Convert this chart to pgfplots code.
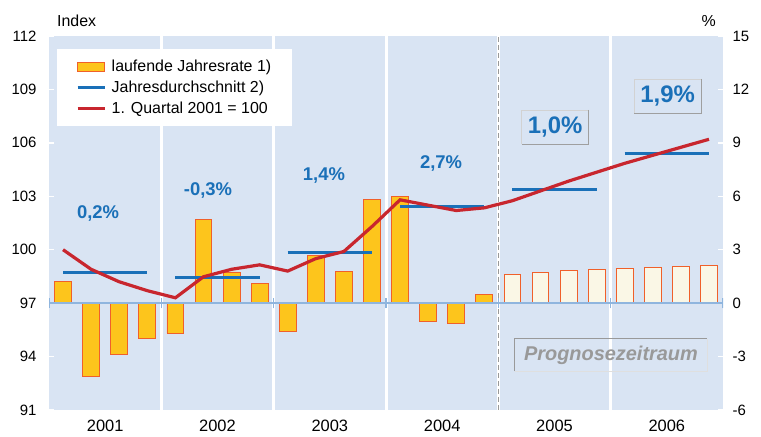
\documentclass[border=0pt]{standalone}
\usepackage{fontspec}
\setmainfont{Liberation Sans}
\usepackage{pgfplots}
\pgfplotsset{compat=1.18}

\definecolor{bgblue}{HTML}{D9E4F3}
\definecolor{barfill}{HTML}{FDC51C}
\definecolor{barline}{HTML}{F0602A}
\definecolor{progfill}{HTML}{FAF7E6}
\definecolor{avgblue}{HTML}{1A70B8}
\definecolor{idxred}{HTML}{C8262E}
\definecolor{zeroblue}{HTML}{8FB5DE}
\definecolor{labgray}{HTML}{999999}

\newcommand\fs[1]{\fontsize{#1}{#1}\selectfont}

\pgfplotsset{
  base/.style={
    at={(49bp,27bp)}, anchor=south west,
    width=674bp, height=374bp, scale only axis,
    xmin=0, xmax=24,
    axis line style={draw=none},
    tick align=inside, major tick length=5bp,
    tick style={white, line width=1.5bp},
    tick label style={font=\fs{15}},
    /pgf/number format/assume math mode=true,
  },
}

\begin{document}
\begin{tikzpicture}[x=1bp,y=1bp]
\path[use as bounding box] (0,0) rectangle (761,437);

% left axis (Index), background and year separators
\begin{axis}[base,
  ymin=91, ymax=112, ytick={91,94,...,112}, ytick pos=left,
  yticklabel style={xshift=-9bp},
  xtick={2,6,10,14,18,22}, xticklabels={2001,2002,2003,2004,2005,2006},
  x tick style={draw=none}, xticklabel style={yshift=-7bp, font=\fs{16.5}},
  axis background/.style={fill=bgblue},
]
\draw[white, line width=3bp] (axis cs:4,91) -- (axis cs:4,112);
\draw[white, line width=3bp] (axis cs:8,91) -- (axis cs:8,112);
\draw[white, line width=3bp] (axis cs:12,91) -- (axis cs:12,112);
\draw[white, line width=3bp] (axis cs:20,91) -- (axis cs:20,112);
\draw[white, line width=3bp] (axis cs:16,91) -- (axis cs:16,112);
\draw[labgray, line width=1.3bp, dash pattern=on 5bp off 3bp] (axis cs:16,91) -- (axis cs:16,112);
\end{axis}

% right axis (%), quarterly rates
\begin{axis}[base,
  ymin=-6, ymax=15, ytick={-6,-3,...,15}, ytick pos=right,
  yticklabel style={xshift=6bp},
  xtick=\empty,
]
\addplot[ybar, bar width=0.6, fill=barfill, draw=barline, line width=0.9bp] coordinates {
(0.5,1.2)(1.5,-4.1)(2.5,-2.9)(3.5,-2.0)
(4.5,-1.7)(5.5,4.7)(6.5,1.75)(7.5,1.1)
(8.5,-1.6)(9.5,2.7)(10.5,1.8)(11.5,5.8)
(12.5,6.0)(13.5,-1.05)(14.5,-1.15)(15.5,0.5)};
\addplot[ybar, bar width=0.6, fill=progfill, draw=barline, line width=0.9bp] coordinates {
(16.5,1.6)(17.5,1.7)(18.5,1.85)(19.5,1.9)
(20.5,1.95)(21.5,2.0)(22.5,2.05)(23.5,2.1)};
\draw[zeroblue, line width=2bp] (axis cs:0,0) -- (axis cs:24,0);
\draw[zeroblue, line width=1.5bp] (axis cs:0,-0.3) -- (axis cs:0,0.3);
\draw[zeroblue, line width=1.5bp] (axis cs:4,-0.3) -- (axis cs:4,0.3);
\draw[zeroblue, line width=1.5bp] (axis cs:8,-0.3) -- (axis cs:8,0.3);
\draw[zeroblue, line width=1.5bp] (axis cs:12,-0.3) -- (axis cs:12,0.3);
\draw[zeroblue, line width=1.5bp] (axis cs:16,-0.3) -- (axis cs:16,0.3);
\draw[zeroblue, line width=1.5bp] (axis cs:20,-0.3) -- (axis cs:20,0.3);
\draw[zeroblue, line width=1.5bp] (axis cs:24,-0.3) -- (axis cs:24,0.3);
\end{axis}

% index line and yearly averages
\begin{axis}[base,
  ymin=91, ymax=112, hide axis,
  legend style={at={(0.0119,0.9652)}, anchor=north west, fill=white, draw=none,
    font=\fs{16}, inner xsep=19bp, inner ysep=9bp, row sep=4bp,
    nodes={inner sep=2bp}},
  legend cell align=left,
]
\addlegendimage{legend image code/.code={\draw[fill=barfill, draw=barline, line width=0.9bp] (0bp,-4.5bp) rectangle (27bp,4.5bp); \path[draw=none, fill=none] (0bp,0bp) -- (32bp,0bp);}}
\addlegendentry{laufende Jahresrate 1)}
\addlegendimage{legend image code/.code={\draw[avgblue, line width=3bp] (0bp,0bp) -- (27bp,0bp); \path[draw=none, fill=none] (0bp,0bp) -- (32bp,0bp);}}
\addlegendentry{Jahresdurchschnitt 2)}
\addlegendimage{legend image code/.code={\draw[idxred, line width=3bp] (0bp,0bp) -- (27bp,0bp); \path[draw=none, fill=none] (0bp,0bp) -- (32bp,0bp);}}
\addlegendentry{1. Quartal 2001 = 100}

\addplot[avgblue, line width=3bp, forget plot, unbounded coords=jump] coordinates {
(0.5,98.7)(3.5,98.7) (3.6,nan)
(4.5,98.45)(7.5,98.45) (7.6,nan)
(8.5,99.85)(11.5,99.85) (11.6,nan)
(12.5,102.45)(15.5,102.45) (15.6,nan)
(16.5,103.4)(19.5,103.4) (19.6,nan)
(20.5,105.4)(23.5,105.4)};
\addplot[idxred, line width=3.2bp, forget plot] coordinates {
(0.5,100.0)(1.5,98.9)(2.5,98.2)(3.5,97.7)
(4.5,97.3)(5.5,98.48)(6.5,98.9)(7.5,99.15)
(8.5,98.8)(9.5,99.5)(10.5,99.9)(11.5,101.3)
(12.5,102.8)(13.5,102.5)(14.5,102.2)(15.5,102.35)
(16.5,102.75)(17.5,103.3)(18.5,103.85)(19.5,104.35)
(20.5,104.85)(21.5,105.3)(22.5,105.75)(23.5,106.2)};

\tikzset{pct/.style={font=\fs{18.5}\bfseries, text=avgblue}}
\node[pct] at (axis cs:1.745,102.05) {0,2\%};
\node[pct] at (axis cs:5.66,103.35) {-0,3\%};
\node[pct] at (axis cs:9.79,104.19) {1,4\%};
\node[pct] at (axis cs:13.96,104.83) {2,7\%};
\node[pct, font=\fs{24}\bfseries, minimum width=66bp, minimum height=34bp, inner sep=0pt] (b1) at (axis cs:18.02,106.88) {1,0\%};
\node[pct, font=\fs{24}\bfseries, minimum width=67bp, minimum height=34bp, inner sep=0pt] (b2) at (axis cs:22.03,108.62) {1,9\%};
\draw[gray!35, line width=0.8bp] (b1.south west) -- (b1.north west) -- (b1.north east);
\draw[gray!75, line width=0.8bp] (b1.north east) -- (b1.south east) -- (b1.south west);
\draw[gray!35, line width=0.8bp] (b2.south west) -- (b2.north west) -- (b2.north east);
\draw[gray!75, line width=0.8bp] (b2.north east) -- (b2.south east) -- (b2.south west);
\node[font=\fs{20}\bfseries\itshape, text=labgray, minimum width=192bp, minimum height=32bp, inner sep=0pt] (pz) at (axis cs:20.01,94.08) {Prognosezeitraum};
\draw[gray!25, line width=0.8bp] (pz.north east) -- (pz.south east) -- (pz.south west);
\draw[labgray, line width=1bp] (pz.south west) -- (pz.north west) -- (pz.north east);
\end{axis}

\node[font=\fs{16}, anchor=base west, inner sep=0pt] at (57,410.3) {Index};
\node[font=\fs{16}, anchor=base east, inner sep=0pt] at (716,410.3) {\%};
\end{tikzpicture}
\end{document}
